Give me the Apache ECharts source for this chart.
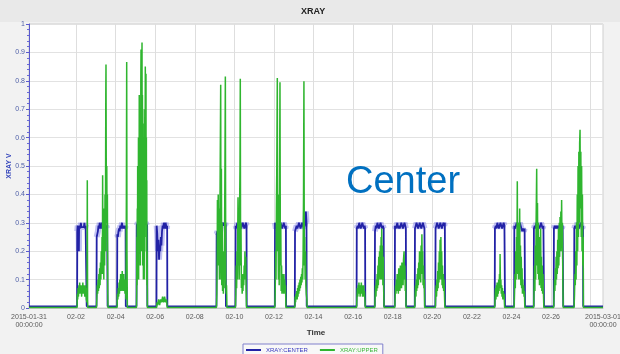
<!DOCTYPE html>
<html>
<head>
<meta charset="utf-8">
<script src="https://cdn.jsdelivr.net/npm/echarts@6/dist/echarts.min.js"></script>
<style>html,body{margin:0;padding:0;background:#fff}#c{width:620px;height:354px}</style>
</head>
<body>
<div id="c"></div>
<script>
// x = days since 2015-01-31 00:00, y = XRAY V
const labelDays = [0, 2.375, 4.375, 6.375, 8.375, 10.375, 12.375, 14.375, 16.375, 18.375, 20.375, 22.375, 24.375, 26.375, 29];
const labelTexts = ['2015-01-31\n00:00:00', '02-02', '02-04', '02-06', '02-08', '02-10', '02-12', '02-14', '02-16', '02-18', '02-20', '02-22', '02-24', '02-26', '2015-03-01\n00:00:00'];
const gridDays = [2.375, 4.375, 6.375, 8.375, 10.375, 12.375, 14.375, 16.375, 18.375, 20.375, 22.375, 24.375, 26.375, 28.375];

const centerSeries = [
[0,0.006],
[2.43,0.006],[2.44,0.27],[2.46,0.29],[2.48,0.28],[2.50,0.29],[2.52,0.2],[2.53,0.28],[2.56,0.29],[2.59,0.28],[2.62,0.3],[2.65,0.285],[2.68,0.29],[2.71,0.28],[2.74,0.29],[2.77,0.285],[2.80,0.3],[2.83,0.28],[2.86,0.29],[2.89,0.285],[2.91,0.29],[2.915,0.006],
[3.41,0.006],[3.42,0.25],[3.45,0.26],[3.48,0.27],[3.51,0.29],[3.54,0.28],[3.57,0.3],[3.60,0.29],[3.63,0.28],[3.66,0.29],[3.69,0.3],[3.72,0.28],[3.75,0.29],[3.80,0.29],[3.85,0.28],[3.90,0.29],[3.95,0.28],[3.97,0.006],
[4.45,0.006],[4.46,0.26],[4.49,0.25],[4.52,0.27],[4.55,0.28],[4.58,0.27],[4.61,0.29],[4.64,0.28],[4.67,0.29],[4.70,0.3],[4.73,0.28],[4.76,0.29],[4.79,0.28],[4.82,0.29],[4.85,0.28],[4.88,0.29],[4.89,0.006],
[5.43,0.006],[5.44,0.29],[5.5,0.3],[5.6,0.29],[5.7,0.3],[5.8,0.29],[5.9,0.3],[5.97,0.29],[5.98,0.006],
[6.44,0.006],[6.45,0.29],[6.48,0.26],[6.51,0.2],[6.54,0.24],[6.57,0.17],[6.60,0.22],[6.63,0.2],[6.66,0.25],[6.69,0.22],[6.72,0.27],[6.75,0.29],[6.78,0.28],[6.81,0.3],[6.84,0.29],[6.87,0.28],[6.90,0.3],[6.93,0.29],[6.96,0.28],[6.98,0.29],[6.99,0.006],
[9.47,0.006],[9.48,0.26],[9.52,0.27],[9.56,0.26],[9.60,0.27],[9.64,0.26],[9.68,0.28],[9.72,0.29],[9.76,0.3],[9.80,0.29],[9.84,0.3],[9.88,0.29],[9.92,0.3],[9.94,0.29],[9.95,0.006],
[10.43,0.006],[10.44,0.29],[10.48,0.28],[10.52,0.3],[10.56,0.29],[10.60,0.28],[10.64,0.29],[10.68,0.3],[10.72,0.28],[10.76,0.29],[10.80,0.3],[10.84,0.29],[10.88,0.28],[10.92,0.29],[10.96,0.3],[10.99,0.29],[11.0,0.006],
[12.42,0.006],[12.43,0.3],[12.47,0.28],[12.51,0.29],[12.55,0.3],[12.59,0.29],[12.63,0.28],[12.67,0.29],[12.71,0.3],[12.75,0.29],[12.79,0.28],[12.83,0.29],[12.87,0.3],[12.91,0.29],[12.95,0.28],[12.98,0.29],[12.99,0.006],
[13.43,0.006],[13.44,0.27],[13.48,0.28],[13.52,0.29],[13.56,0.28],[13.60,0.29],[13.64,0.3],[13.68,0.29],[13.72,0.28],[13.76,0.29],[13.80,0.3],[13.84,0.29],[13.88,0.28],[13.92,0.29],[13.96,0.3],[13.99,0.34],[14.02,0.3],[14.03,0.006],
[16.55,0.006],[16.56,0.28],[16.60,0.29],[16.64,0.28],[16.68,0.3],[16.72,0.29],[16.76,0.28],[16.80,0.29],[16.84,0.3],[16.88,0.29],[16.92,0.28],[16.96,0.29],[16.98,0.28],[16.99,0.006],
[17.47,0.006],[17.48,0.27],[17.52,0.29],[17.56,0.28],[17.60,0.3],[17.64,0.29],[17.68,0.28],[17.72,0.29],[17.76,0.3],[17.80,0.29],[17.84,0.28],[17.88,0.29],[17.92,0.28],[17.935,0.006],
[18.48,0.006],[18.49,0.29],[18.53,0.28],[18.57,0.29],[18.61,0.3],[18.65,0.28],[18.69,0.29],[18.73,0.28],[18.77,0.29],[18.81,0.3],[18.85,0.29],[18.89,0.28],[18.93,0.29],[18.97,0.3],[19.01,0.29],[19.04,0.28],[19.05,0.006],
[19.49,0.006],[19.50,0.28],[19.54,0.29],[19.58,0.3],[19.62,0.29],[19.66,0.28],[19.70,0.29],[19.74,0.3],[19.78,0.29],[19.82,0.28],[19.86,0.29],[19.90,0.3],[19.94,0.29],[19.98,0.28],[20.0,0.006],
[20.53,0.006],[20.54,0.28],[20.58,0.29],[20.62,0.3],[20.66,0.29],[20.70,0.28],[20.74,0.29],[20.78,0.3],[20.82,0.29],[20.86,0.28],[20.90,0.29],[20.94,0.3],[20.98,0.29],[21.01,0.3],[21.02,0.006],
[23.53,0.006],[23.54,0.28],[23.58,0.29],[23.62,0.28],[23.66,0.3],[23.70,0.29],[23.74,0.28],[23.78,0.29],[23.82,0.3],[23.86,0.29],[23.90,0.28],[23.94,0.29],[23.98,0.3],[24.02,0.29],[24.05,0.006],
[24.51,0.006],[24.52,0.29],[24.56,0.28],[24.60,0.29],[24.64,0.3],[24.68,0.29],[24.72,0.28],[24.76,0.29],[24.80,0.3],[24.84,0.29],[24.88,0.28],[24.92,0.27],[24.96,0.28],[25.0,0.27],[25.04,0.28],[25.06,0.006],
[25.50,0.006],[25.51,0.28],[25.55,0.29],[25.59,0.28],[25.63,0.3],[25.67,0.29],[25.71,0.28],[25.75,0.29],[25.79,0.28],[25.83,0.29],[25.87,0.3],[25.91,0.29],[25.95,0.28],[25.99,0.29],[26.02,0.006],
[26.51,0.006],[26.52,0.28],[26.56,0.29],[26.60,0.28],[26.64,0.29],[26.68,0.28],[26.72,0.29],[26.76,0.28],[26.80,0.29],[26.84,0.28],[26.88,0.29],[26.92,0.28],[26.96,0.29],[26.99,0.006],
[27.54,0.006],[27.55,0.28],[27.59,0.29],[27.63,0.28],[27.67,0.29],[27.71,0.3],[27.75,0.29],[27.79,0.28],[27.83,0.29],[27.87,0.3],[27.91,0.29],[27.95,0.28],[27.99,0.29],[28.0,0.006],
[29,0.006]
];

const upperSeries = [
[0,0.002],
[2.43,0.002],[2.44,0.05],[2.46,0.03],[2.48,0.07],[2.50,0.04],[2.52,0.08],[2.54,0.05],[2.56,0.09],[2.58,0.06],[2.60,0.08],[2.62,0.05],[2.64,0.07],[2.66,0.04],[2.68,0.08],[2.70,0.06],[2.72,0.09],[2.74,0.05],[2.76,0.08],[2.78,0.06],[2.80,0.07],[2.82,0.04],[2.84,0.08],[2.86,0.05],[2.88,0.07],[2.90,0.03],[2.93,0.02],[2.945,0.45],[2.96,0.03],[2.97,0.002],
[3.41,0.002],[3.43,0.04],[3.45,0.08],[3.47,0.05],[3.49,0.1],[3.51,0.06],[3.53,0.12],[3.55,0.07],[3.57,0.14],[3.59,0.08],[3.61,0.16],[3.63,0.1],[3.65,0.2],[3.67,0.12],[3.69,0.25],[3.71,0.15],[3.72,0.467],[3.74,0.12],[3.76,0.3],[3.78,0.1],[3.80,0.35],[3.82,0.15],[3.84,0.4],[3.86,0.2],[3.88,0.75],[3.89,0.857],[3.91,0.3],[3.93,0.5],[3.95,0.2],[3.96,0.4],[3.98,0.05],[3.99,0.002],
[4.45,0.002],[4.47,0.05],[4.49,0.03],[4.51,0.07],[4.53,0.04],[4.55,0.09],[4.57,0.05],[4.59,0.1],[4.61,0.06],[4.63,0.12],[4.65,0.07],[4.67,0.1],[4.69,0.06],[4.71,0.13],[4.73,0.08],[4.75,0.11],[4.77,0.06],[4.79,0.12],[4.81,0.07],[4.83,0.1],[4.85,0.05],[4.87,0.08],[4.90,0.03],[4.92,0.4],[4.936,0.866],[4.95,0.2],[4.97,0.002],
[5.43,0.002],[5.44,0.05],[5.45,0.25],[5.46,0.08],[5.47,0.35],[5.48,0.1],[5.49,0.5],[5.50,0.15],[5.51,0.45],[5.52,0.2],[5.53,0.6],[5.54,0.1],[5.55,0.55],[5.56,0.25],[5.57,0.75],[5.58,0.2],[5.59,0.65],[5.60,0.3],[5.61,0.7],[5.62,0.15],[5.63,0.6],[5.64,0.35],[5.65,0.8],[5.66,0.91],[5.67,0.4],[5.68,0.7],[5.69,0.2],[5.70,0.8],[5.71,0.935],[5.72,0.3],[5.73,0.75],[5.74,0.15],[5.75,0.7],[5.76,0.35],[5.77,0.65],[5.78,0.1],[5.79,0.6],[5.80,0.3],[5.81,0.55],[5.82,0.1],[5.83,0.5],[5.84,0.25],[5.85,0.7],[5.86,0.35],[5.876,0.85],[5.89,0.3],[5.91,0.825],[5.92,0.2],[5.93,0.6],[5.94,0.1],[5.95,0.45],[5.96,0.08],[5.97,0.2],[5.98,0.002],
[6.45,0.002],[6.47,0.02],[6.50,0.01],[6.55,0.03],[6.60,0.01],[6.65,0.03],[6.70,0.02],[6.75,0.04],[6.80,0.02],[6.85,0.04],[6.90,0.02],[6.95,0.03],[6.98,0.002],
[9.47,0.002],[9.49,0.05],[9.51,0.2],[9.52,0.38],[9.54,0.2],[9.56,0.4],[9.58,0.15],[9.60,0.35],[9.62,0.1],[9.64,0.25],[9.66,0.5],[9.685,0.786],[9.70,0.1],[9.72,0.49],[9.74,0.08],[9.76,0.3],[9.78,0.06],[9.80,0.2],[9.82,0.05],[9.84,0.15],[9.86,0.07],[9.88,0.25],[9.90,0.5],[9.92,0.815],[9.94,0.1],[9.96,0.05],[9.98,0.08],[10.0,0.002],
[10.43,0.002],[10.45,0.05],[10.47,0.15],[10.49,0.07],[10.51,0.2],[10.53,0.1],[10.55,0.3],[10.56,0.39],[10.58,0.15],[10.60,0.25],[10.62,0.1],[10.64,0.35],[10.66,0.5],[10.675,0.807],[10.69,0.15],[10.71,0.3],[10.73,0.07],[10.75,0.12],[10.77,0.05],[10.79,0.1],[10.81,0.06],[10.83,0.12],[10.85,0.08],[10.87,0.15],[10.89,0.1],[10.91,0.2],[10.93,0.12],[10.95,0.18],[10.97,0.06],[10.99,0.002],
[12.42,0.002],[12.44,0.06],[12.46,0.2],[12.48,0.1],[12.50,0.35],[12.52,0.5],[12.545,0.81],[12.56,0.2],[12.58,0.4],[12.60,0.1],[12.62,0.3],[12.64,0.08],[12.66,0.45],[12.68,0.795],[12.70,0.15],[12.72,0.3],[12.74,0.06],[12.76,0.15],[12.78,0.05],[12.80,0.12],[12.82,0.06],[12.84,0.1],[12.86,0.05],[12.88,0.12],[12.90,0.06],[12.92,0.1],[12.94,0.05],[12.96,0.08],[12.98,0.002],
[13.43,0.002],[13.45,0.04],[13.47,0.02],[13.49,0.05],[13.51,0.03],[13.53,0.06],[13.55,0.03],[13.57,0.07],[13.59,0.04],[13.61,0.08],[13.63,0.05],[13.65,0.09],[13.67,0.06],[13.69,0.1],[13.71,0.07],[13.73,0.11],[13.75,0.08],[13.77,0.12],[13.79,0.09],[13.81,0.14],[13.83,0.1],[13.85,0.2],[13.87,0.4],[13.89,0.798],[13.91,0.15],[13.93,0.25],[13.95,0.1],[13.97,0.2],[13.99,0.08],[14.01,0.05],[14.04,0.03],[14.05,0.002],
[16.55,0.002],[16.57,0.04],[16.59,0.07],[16.61,0.04],[16.63,0.08],[16.65,0.05],[16.67,0.09],[16.69,0.05],[16.71,0.07],[16.73,0.04],[16.75,0.08],[16.77,0.05],[16.79,0.09],[16.81,0.06],[16.83,0.08],[16.85,0.04],[16.87,0.07],[16.89,0.05],[16.91,0.08],[16.93,0.04],[16.95,0.06],[16.97,0.03],[16.99,0.002],
[17.47,0.002],[17.49,0.05],[17.51,0.08],[17.53,0.04],[17.55,0.1],[17.57,0.06],[17.59,0.12],[17.61,0.07],[17.63,0.15],[17.65,0.08],[17.67,0.18],[17.69,0.1],[17.71,0.2],[17.73,0.12],[17.75,0.22],[17.77,0.1],[17.79,0.25],[17.81,0.14],[17.82,0.28],[17.84,0.1],[17.86,0.22],[17.88,0.08],[17.90,0.18],[17.92,0.06],[17.94,0.002],
[18.48,0.002],[18.50,0.04],[18.52,0.08],[18.54,0.05],[18.56,0.1],[18.58,0.06],[18.60,0.12],[18.62,0.07],[18.64,0.1],[18.66,0.05],[18.68,0.14],[18.70,0.08],[18.72,0.12],[18.74,0.06],[18.76,0.15],[18.78,0.09],[18.80,0.13],[18.82,0.07],[18.84,0.16],[18.86,0.1],[18.88,0.14],[18.90,0.08],[18.92,0.17],[18.95,0.2],[18.97,0.1],[18.99,0.15],[19.01,0.06],[19.03,0.1],[19.05,0.002],
[19.49,0.002],[19.51,0.05],[19.53,0.08],[19.55,0.04],[19.57,0.1],[19.59,0.06],[19.61,0.12],[19.63,0.07],[19.65,0.14],[19.67,0.08],[19.69,0.16],[19.71,0.1],[19.73,0.2],[19.75,0.12],[19.77,0.18],[19.79,0.09],[19.81,0.22],[19.83,0.12],[19.85,0.26],[19.87,0.14],[19.89,0.2],[19.91,0.08],[19.93,0.15],[19.95,0.07],[19.97,0.1],[19.99,0.002],
[20.53,0.002],[20.55,0.05],[20.57,0.08],[20.59,0.04],[20.61,0.1],[20.63,0.06],[20.65,0.13],[20.67,0.07],[20.69,0.16],[20.71,0.09],[20.73,0.2],[20.75,0.1],[20.77,0.24],[20.79,0.12],[20.81,0.25],[20.83,0.1],[20.85,0.2],[20.87,0.08],[20.89,0.15],[20.91,0.07],[20.93,0.12],[20.95,0.06],[20.97,0.1],[20.99,0.05],[21.01,0.002],
[23.53,0.002],[23.55,0.04],[23.57,0.07],[23.59,0.03],[23.61,0.08],[23.63,0.05],[23.65,0.09],[23.67,0.04],[23.69,0.07],[23.71,0.05],[23.73,0.1],[23.75,0.06],[23.77,0.12],[23.79,0.08],[23.80,0.19],[23.82,0.07],[23.84,0.1],[23.86,0.05],[23.88,0.08],[23.90,0.04],[23.92,0.07],[23.94,0.03],[23.96,0.06],[23.98,0.03],[24.0,0.05],[24.03,0.002],
[24.51,0.002],[24.53,0.06],[24.55,0.12],[24.57,0.07],[24.59,0.2],[24.61,0.1],[24.63,0.25],[24.65,0.15],[24.67,0.446],[24.69,0.12],[24.71,0.28],[24.73,0.1],[24.75,0.3],[24.77,0.12],[24.79,0.35],[24.81,0.1],[24.83,0.22],[24.85,0.08],[24.87,0.18],[24.89,0.07],[24.91,0.14],[24.93,0.05],[24.95,0.1],[24.97,0.05],[24.99,0.08],[25.01,0.04],[25.03,0.06],[25.05,0.002],
[25.50,0.002],[25.52,0.08],[25.54,0.15],[25.56,0.06],[25.58,0.22],[25.60,0.1],[25.62,0.3],[25.65,0.49],[25.67,0.15],[25.69,0.37],[25.71,0.12],[25.73,0.3],[25.75,0.1],[25.77,0.25],[25.79,0.08],[25.81,0.2],[25.83,0.1],[25.85,0.28],[25.87,0.07],[25.89,0.18],[25.91,0.06],[25.93,0.15],[25.95,0.05],[25.97,0.12],[25.99,0.06],[26.01,0.002],
[26.51,0.002],[26.53,0.05],[26.55,0.1],[26.57,0.06],[26.59,0.14],[26.61,0.08],[26.63,0.18],[26.65,0.1],[26.67,0.2],[26.69,0.12],[26.71,0.24],[26.73,0.14],[26.75,0.28],[26.77,0.15],[26.79,0.3],[26.81,0.18],[26.83,0.32],[26.85,0.2],[26.87,0.34],[26.89,0.22],[26.91,0.38],[26.93,0.2],[26.95,0.3],[26.97,0.1],[26.99,0.002],
[27.54,0.002],[27.56,0.05],[27.58,0.12],[27.60,0.08],[27.62,0.2],[27.64,0.1],[27.66,0.3],[27.68,0.15],[27.70,0.4],[27.72,0.2],[27.74,0.5],[27.76,0.25],[27.78,0.55],[27.80,0.3],[27.82,0.58],[27.84,0.628],[27.86,0.35],[27.88,0.55],[27.90,0.25],[27.92,0.5],[27.94,0.2],[27.96,0.4],[27.98,0.15],[28.0,0.25],[28.01,0.002],
[29,0.002]
];

// soft noise band drawn behind the CENTER trace while it is "on" (derived from centerSeries)
const centerHalo = centerSeries.map(function (p) { return p[1] > 0.1 ? p : [p[0], null]; });

const chart = echarts.init(document.getElementById('c'), null, {renderer: 'canvas'});
const BLUE = '#2222a6';
const GREEN = '#2fb52f';
chart.setOption({
  animation: false,
  backgroundColor: '#f2f2f2',
  title: {
    text: 'XRAY', left: 301, top: 7, padding: 0,
    textStyle: {fontSize: 9, fontWeight: 'bold', color: '#222', fontFamily: 'Liberation Sans'}
  },
  graphic: [
    {type: 'rect', shape: {x: 0, y: 0, width: 620, height: 22}, style: {fill: '#e9e9e9'}, z: -1, silent: true},
    {type: 'text', x: 346, y: 183, z: 100, style: {text: 'Center', fontSize: 38, fontFamily: 'Liberation Sans', fill: '#0070c0', verticalAlign: 'middle'}}
  ],
  legend: {
    left: 243, top: 344,
    padding: [3, 5, 6, 3],
    itemGap: 12, itemWidth: 15, itemHeight: 2, icon: 'rect',
    borderColor: '#8080cc', borderWidth: 1, backgroundColor: '#f8f8f8',
    textStyle: {fontSize: 6, fontFamily: 'Liberation Sans'},
    data: [
      {name: 'XRAY:CENTER', textStyle: {color: '#3a3ac0'}},
      {name: 'XRAY:UPPER', textStyle: {color: '#3cb83c'}}
    ]
  },
  grid: {
    left: 29, right: 17, top: 24, bottom: 46,
    show: true, backgroundColor: '#ffffff', borderColor: '#cfcfcf', borderWidth: 1,
    outerBoundsMode: 'none', containLabel: false
  },
  xAxis: {
    type: 'value', min: 0, max: 29,
    name: 'Time', nameLocation: 'middle', nameGap: 21, nameMoveOverlap: false,
    nameTextStyle: {fontSize: 8, fontWeight: 'bold', color: '#333', fontFamily: 'Liberation Sans'},
    axisLine: {show: true, lineStyle: {color: '#c8c8c8'}},
    axisTick: {show: false, customValues: gridDays},
    axisLabel: {
      customValues: labelDays,
      fontSize: 7, lineHeight: 8, color: '#5a5a5a', fontFamily: 'Liberation Sans', margin: 5,
      formatter: function (v) {
        for (let i = 0; i < labelDays.length; i++) if (Math.abs(labelDays[i] - v) < 1e-6) return labelTexts[i];
        return '';
      }
    },
    splitLine: {show: true, lineStyle: {color: '#dedede', width: 1}}
  },
  yAxis: {
    type: 'value', min: 0, max: 1, interval: 0.1,
    name: 'XRAY V', nameLocation: 'middle', nameGap: 16, nameRotate: 90, nameMoveOverlap: false,
    nameTextStyle: {fontSize: 7, fontWeight: 'bold', color: '#3344bb', fontFamily: 'Liberation Sans'},
    axisLine: {show: true, lineStyle: {color: '#5a5acd', width: 1}},
    axisTick: {show: true, length: 3, lineStyle: {color: '#5a5acd'}},
    minorTick: {show: true, splitNumber: 5, length: 2, lineStyle: {color: '#6a6ad8'}},
    axisLabel: {fontSize: 7, color: '#5060a8', fontFamily: 'Liberation Sans', margin: 4},
    splitLine: {show: true, lineStyle: {color: '#e2e2e2', width: 1}}
  },
  series: [
    {
      name: 'centerHalo', type: 'line', data: centerHalo, showSymbol: false, symbol: 'none',
      connectNulls: false, silent: true,
      lineStyle: {color: 'rgba(95,95,225,0.38)', width: 6}, itemStyle: {color: 'rgba(95,95,225,0.38)'}, z: 1
    },
    {
      name: 'XRAY:CENTER', type: 'line', data: centerSeries, showSymbol: false, symbol: 'none',
      lineStyle: {color: BLUE, width: 1.8}, itemStyle: {color: BLUE}, z: 2
    },
    {
      name: 'XRAY:UPPER', type: 'line', data: upperSeries, showSymbol: false, symbol: 'none',
      lineStyle: {color: GREEN, width: 1.5}, itemStyle: {color: GREEN}, z: 3
    }
  ]
});
</script>
</body>
</html>
